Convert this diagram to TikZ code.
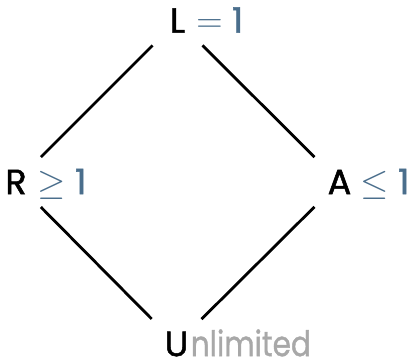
\documentclass[tikz,border=0pt]{standalone}
\usepackage{fontspec}
\setmainfont{Poppins}
\newfontfamily\latticefont{Poppins}[FakeBold=1.4]
\newfontfamily\restfont{Poppins}[FakeBold=1.0, FakeStretch=0.84]
\usepackage{xcolor}
\usepackage{tikz}
\usetikzlibrary{positioning}
\definecolor{relblue}{RGB}{74,110,140}
\definecolor{restgray}{RGB}{168,168,168}
\tikzset{
  latticenode/.style={
    circle, inner sep=0pt, minimum size=1.4cm,
    font=\latticefont\fontsize{20}{24}\selectfont, text=black
  },
  relnote/.style={
    inner sep=0pt, anchor=base west,
    font=\latticefont\fontsize{20}{24}\selectfont, text=relblue
  },
  restnote/.style={
    inner sep=0pt, anchor=base west,
    font=\restfont\fontsize{20}{24}\selectfont, text=restgray
  },
  latticeedge/.style={line width=1.6pt, black}
}

\begin{document}
\begin{tikzpicture}[x=0.02cm, y=-0.02cm]
  \useasboundingbox (0,0) rectangle (414,364);

  % Lattice points
  \node[latticenode] (L) at (177.5,20.5) {L};
  \node[latticenode] (R) at (16,182) {R};
  \node[latticenode] (A) at (339.5,182) {A};
  \node[latticenode] (U) at (176.5,344) {U};

  % Bounds
  \node[relnote] (Lrel) at ([xshift=0.37cm]L.base) {$=$ 1};
  \node[relnote] (Rrel) at ([xshift=0.42cm]R.base) {$\geq$ 1};
  \node[relnote] (Arel) at ([xshift=0.41cm]A.base) {$\leq$ 1};
  \node[restnote] (Urest) at ([xshift=0.28cm]U.base) {nlimited};

  % Order
  \draw[latticeedge] (L) -- (R);
  \draw[latticeedge] (L) -- (A);
  \draw[latticeedge] (R) -- (U);
  \draw[latticeedge] (A) -- (U);
\end{tikzpicture}
\end{document}
